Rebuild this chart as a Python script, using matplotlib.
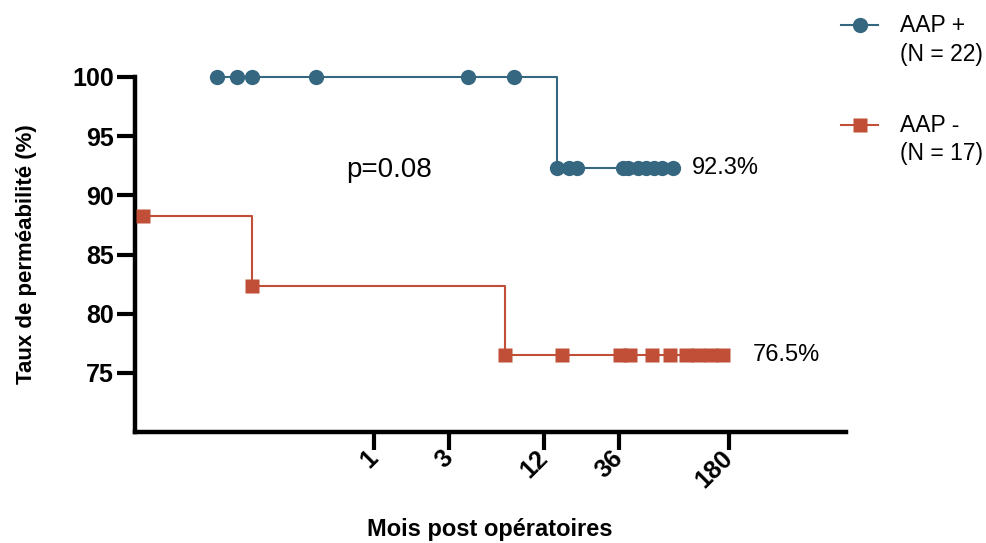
import matplotlib
matplotlib.use("Agg")
import matplotlib.pyplot as plt
from matplotlib.lines import Line2D

# ---- data ----
blue_step_t = [0.10, 14.6, 78.9]
blue_step_s = [100.0, 92.31, 92.31]
blue_mark_t = [0.10, 0.134, 0.166, 0.425, 3.92, 7.78, 14.6, 17.4, 19.3, 38, 41, 47.3, 53.4, 60, 68, 78.9]
blue_mark_s = [100.0] * 6 + [92.31] * 10

red_step_t = [0.0338, 0.167, 6.8, 165]
red_step_s = [88.24, 82.35, 76.47, 76.47]
red_mark_t = [0.0338, 0.167, 6.8, 15.6, 36.6, 42.3, 58.7, 75.8, 95.7, 114, 138, 165]
red_mark_s = [88.24, 82.35] + [76.47] * 10

xticks = [1, 3, 12, 36, 180]
xtick_labels = ["1", "3", "12", "36", "180"]
yticks = [75, 80, 85, 90, 95, 100]

BLUE = "#366780"
RED = "#c14e36"

plt.rcParams['font.family'] = ['Liberation Sans', 'DejaVu Sans']

fig = plt.figure(figsize=(9.86, 5.43), dpi=100)
ax = fig.add_axes([0.137, 0.2044, 0.721, 0.6538])

ax.set_xscale('log')
ax.set_xlim(0.03, 1000)
ax.set_ylim(70, 100)

ax.step(blue_step_t, blue_step_s, where='post', color=BLUE, lw=1.5, clip_on=False, zorder=3)
ax.plot(blue_mark_t, blue_mark_s, 'o', color=BLUE, ms=11, mec='none', clip_on=False, zorder=4)
ax.step(red_step_t, red_step_s, where='post', color=RED, lw=1.5, clip_on=False, zorder=3)
ax.plot(red_mark_t, red_mark_s, 's', color=RED, ms=10.5, mec='none', clip_on=False, zorder=4)

for s in ['top', 'right']:
    ax.spines[s].set_visible(False)
for s in ['left', 'bottom']:
    ax.spines[s].set_linewidth(3.2)

ax.set_yticks(yticks)
ax.set_yticklabels([str(v) for v in yticks], fontsize=18, fontweight='bold')
ax.set_xticks(xticks)
ax.xaxis.set_minor_locator(matplotlib.ticker.NullLocator())
ax.set_xticklabels(xtick_labels, fontsize=18, fontweight='bold', rotation=45,
                   ha='right', va='center', rotation_mode='anchor')
ax.tick_params(axis='both', which='major', length=13, width=3, direction='out')
ax.tick_params(axis='y', pad=2)
ax.tick_params(axis='x', pad=3)

ax.set_xlabel("Mois post opératoires", fontsize=17, fontweight='bold')
ax.xaxis.set_label_coords(0.499, -0.243)
ax.set_ylabel("Taux de perméabilité (%)", fontsize=16, fontweight='bold')
ax.yaxis.set_label_coords(-0.138, 0.5)

ax.text(1.23, 92.1, "p=0.08", fontsize=20, ha='center', va='center')
ax.text(104, 92.31, "92.3%", fontsize=17, ha='left', va='center')
ax.text(254, 76.47, "76.5%", fontsize=17, ha='left', va='center')

# legend (manual)
def leg(y_px, color, marker, ms, l1, l2):
    yf = 1 - y_px / 543
    fig.add_artist(Line2D([841/986, 878/986], [yf, yf], color=color, lw=1.5))
    fig.add_artist(Line2D([860/986], [yf], color=color, marker=marker, ms=ms, mec='none'))
    fig.text(900/986, yf, l1, fontsize=16.5, ha='left', va='center')
    fig.text(900/986, 1 - (y_px + 29) / 543, l2, fontsize=16.5, ha='left', va='center')

leg(25, BLUE, 'o', 11, "AAP +", "(N = 22)")
leg(125, RED, 's', 10.5, "AAP -", "(N = 17)")

fig.savefig("out.png", dpi=100)
